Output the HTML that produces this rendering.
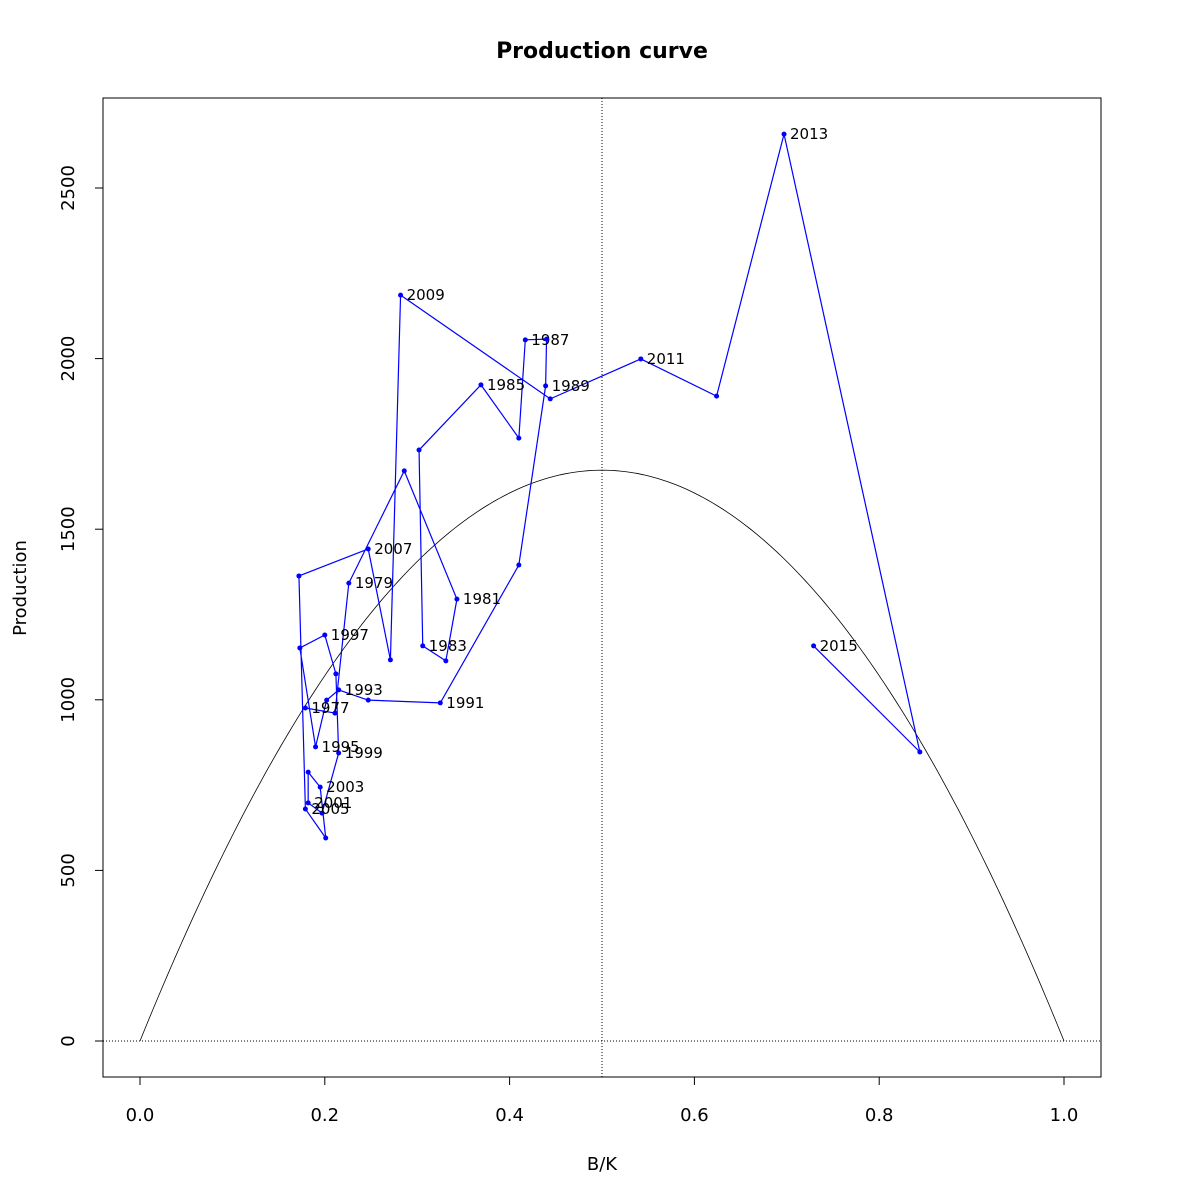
<!DOCTYPE html>
<html><head><meta charset="utf-8"><style>body{margin:0;background:#fff}svg{display:block;font-family:"DejaVu Sans","Liberation Sans",sans-serif}</style></head>
<body>
<svg id="chart" width="1200" height="1200">
<text x="602" y="58" text-anchor="middle" font-size="22" font-weight="bold">Production curve</text>
<rect x="103" y="98" width="998" height="979" fill="none" stroke="#000"/>
<g id="axes"></g><g id="curve"></g><g id="series"></g>
<text x="602" y="1170" text-anchor="middle" font-size="18">B/K</text>
<text transform="translate(26,588) rotate(-90)" text-anchor="middle" font-size="18">Production</text>
</svg>
<script>
const years=[1977,1978,1979,1980,1981,1982,1983,1984,1985,1986,1987,1988,1989,1990,1991,1992,1993,1994,1995,1996,1997,1998,1999,2000,2001,2002,2003,2004,2005,2006,2007,2008,2009,2010,2011,2012,2013,2014,2015];
const bk=[0.179,0.211,0.226,0.286,0.343,0.331,0.306,0.302,0.369,0.410,0.417,0.440,0.439,0.410,0.325,0.247,0.215,0.202,0.190,0.173,0.200,0.212,0.215,0.197,0.182,0.182,0.195,0.201,0.179,0.172,0.247,0.271,0.282,0.444,0.542,0.624,0.697,0.844,0.729];
const prod=[976,961,1342,1671,1295,1114,1158,1732,1923,1767,2055,2057,1920,1395,991,999,1029,999,862,1152,1190,1076,844,668,698,788,744,595,680,1363,1442,1117,2186,1882,1999,1890,2658,847,1158];
const xTicks=[0,0.2,0.4,0.6,0.8,1.0];
const xTickLabels=["0.0","0.2","0.4","0.6","0.8","1.0"];
const yTicks=[0,500,1000,1500,2000,2500];
const msy=[1673];
const NS="http://www.w3.org/2000/svg";
const X=v=>140+v*924, Y=v=>1041-v*0.3412;
function mk(t,a,p){const e=document.createElementNS(NS,t);for(const k in a)e.setAttribute(k,a[k]);p.appendChild(e);return e;}
const ax=document.getElementById('axes');
xTicks.forEach((t,i)=>{
 const l=mk('line',{x1:X(t),x2:X(t),y1:1077,y2:1085,stroke:'#000'},ax);
 
 
 const tx=mk('text',{x:X(t),y:1121,'text-anchor':'middle','font-size':18},ax);tx.textContent=xTickLabels[i];
 
 
});
yTicks.forEach(t=>{
 const l=mk('line',{x1:95,x2:103,y1:Y(t),y2:Y(t),stroke:'#000'},ax);
 
 
 const tx=mk('text',{transform:`translate(74,${Y(t)}) rotate(-90)`,'text-anchor':'middle','font-size':18},ax);tx.textContent=t;
 
 
});
const h=mk('line',{x1:103,x2:1101,y1:Y(0),y2:Y(0),stroke:'#000','stroke-dasharray':'1,2'},ax);


const v=mk('line',{x1:X(0.5),x2:X(0.5),y1:98,y2:1077,stroke:'#000','stroke-dasharray':'1,2'},ax);


let d='';for(let i=0;i<=200;i++){const b=i/200;d+=(i?'L':'M')+X(b)+','+Y(4*msy[0]*b*(1-b));}
const c=mk('path',{d:d,fill:'none',stroke:'#000','stroke-width':0.8},document.getElementById('curve'));


const s=document.getElementById('series');
const pl=mk('polyline',{points:bk.map((b,i)=>X(b)+','+Y(prod[i])).join(' '),fill:'none',stroke:'#00f','stroke-width':1.2},s);


bk.forEach((b,i)=>{
 const p=mk('circle',{cx:X(b),cy:Y(prod[i]),r:2.5,fill:'#00f'},s);
 
 
 if(years[i]%2===1){
  const t=mk('text',{x:X(b)+6,y:Y(prod[i])+5,'font-size':15},s);t.textContent=years[i];
  
  
 }
});
</script>
</body></html>
